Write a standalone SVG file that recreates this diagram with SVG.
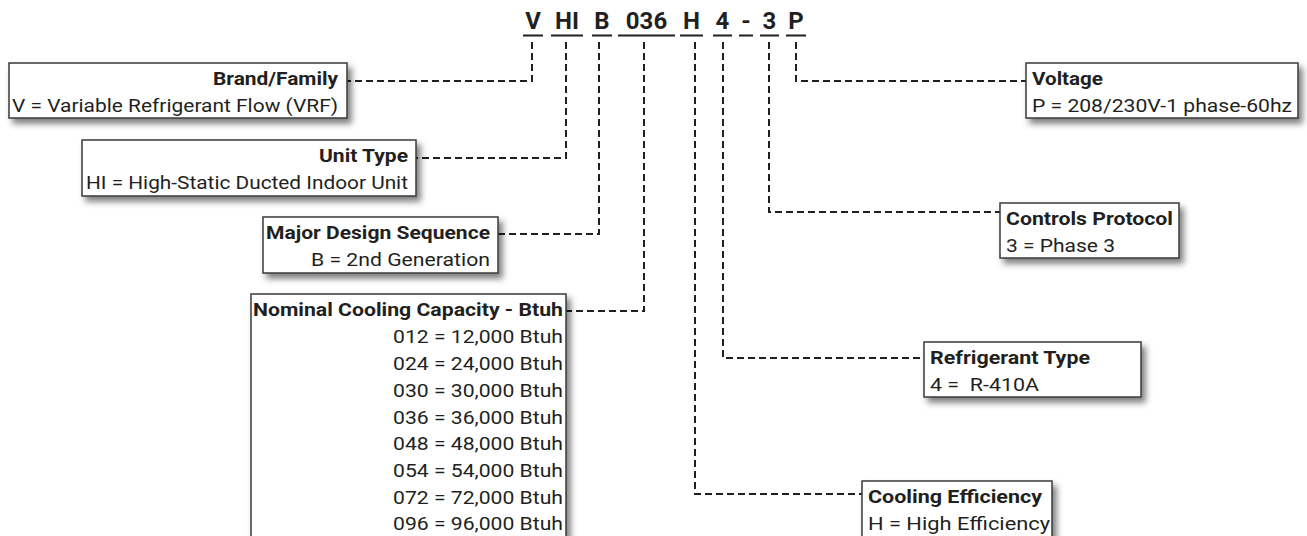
<svg xmlns="http://www.w3.org/2000/svg" width="1307" height="536" viewBox="0 0 1307 536">
<style>
.code{font-family:Roboto,"Liberation Sans",sans-serif;font-weight:bold;font-size:24px;fill:#231f20;text-anchor:middle}
.ul{stroke:#231f20;stroke-width:2}
.box{fill:#fff;stroke:#3a3a3a;stroke-width:1.5;filter:url(#sh)}
.t{font-family:Roboto,"Liberation Sans",sans-serif;font-weight:bold;font-size:18.5px;fill:#231f20}
.b{font-family:Roboto,"Liberation Sans",sans-serif;font-size:18.5px;fill:#231f20}
.c{fill:none;stroke:#231f20;stroke-width:2;stroke-dasharray:7 4}
</style>
<defs>
<filter id="sh" x="-10%" y="-20%" width="130%" height="160%">
<feDropShadow dx="4" dy="5" stdDeviation="3" flood-color="#000" flood-opacity="0.5"/>
</filter>
</defs>
<rect width="1307" height="536" fill="#fff"/>
<g id="code">
<text class="code" x="533" y="29">V</text>
<text class="code" x="567" y="29">HI</text>
<text class="code" x="602" y="29">B</text>
<text class="code" x="646.5" y="29">036</text>
<text class="code" x="691.5" y="29">H</text>
<text class="code" x="722.5" y="29">4</text>
<text class="code" x="746" y="29">-</text>
<text class="code" x="769.5" y="29">3</text>
<text class="code" x="796" y="29">P</text>
<line class="ul" x1="523" y1="35.5" x2="543" y2="35.5"/>
<line class="ul" x1="551" y1="35.5" x2="583" y2="35.5"/>
<line class="ul" x1="592" y1="35.5" x2="612" y2="35.5"/>
<line class="ul" x1="618" y1="35.5" x2="675" y2="35.5"/>
<line class="ul" x1="680" y1="35.5" x2="703" y2="35.5"/>
<line class="ul" x1="713" y1="35.5" x2="732" y2="35.5"/>
<line class="ul" x1="739" y1="35.5" x2="753" y2="35.5"/>
<line class="ul" x1="760" y1="35.5" x2="779" y2="35.5"/>
<line class="ul" x1="786" y1="35.5" x2="806" y2="35.5"/>
</g>
<g id="connectors">
<polyline class="c" points="532,42 532,81 347,81"/>
<polyline class="c" points="566,42 566,158 416,158"/>
<polyline class="c" points="599,42 599,234 498,234"/>
<polyline class="c" points="644,42 644,311 566,311"/>
<polyline class="c" points="695,42 695,494 862,494"/>
<polyline class="c" points="723,42 723,358 924,358"/>
<polyline class="c" points="769,42 769,212 1000,212"/>
<polyline class="c" points="796,42 796,81 1026,81"/>
</g>
<g id="brand">
<rect class="box" x="9" y="63" width="338" height="55"/>
<text class="t" x="213" y="85" textLength="125" lengthAdjust="spacingAndGlyphs">Brand/Family</text>
<text class="b" x="12" y="112" textLength="326" lengthAdjust="spacingAndGlyphs">V = Variable Refrigerant Flow (VRF)</text>
</g>
<g id="unit-type">
<rect class="box" x="82" y="140" width="334" height="56"/>
<text class="t" x="319" y="162" textLength="89" lengthAdjust="spacingAndGlyphs">Unit Type</text>
<text class="b" x="86" y="189" textLength="322" lengthAdjust="spacingAndGlyphs">HI = High-Static Ducted Indoor Unit</text>
</g>
<g id="major-design">
<rect class="box" x="263" y="217" width="235" height="56"/>
<text class="t" x="266" y="239" textLength="224" lengthAdjust="spacingAndGlyphs">Major Design Sequence</text>
<text class="b" x="311" y="266" textLength="179" lengthAdjust="spacingAndGlyphs">B = 2nd Generation</text>
</g>
<g id="capacity">
<rect class="box" x="251" y="294" width="315" height="270"/>
<text class="t" x="253" y="316" textLength="310" lengthAdjust="spacingAndGlyphs">Nominal Cooling Capacity - Btuh</text>
<text class="b" x="393" y="343" textLength="170" lengthAdjust="spacingAndGlyphs">012 = 12,000 Btuh</text>
<text class="b" x="393" y="370" textLength="170" lengthAdjust="spacingAndGlyphs">024 = 24,000 Btuh</text>
<text class="b" x="393" y="397" textLength="170" lengthAdjust="spacingAndGlyphs">030 = 30,000 Btuh</text>
<text class="b" x="393" y="424" textLength="170" lengthAdjust="spacingAndGlyphs">036 = 36,000 Btuh</text>
<text class="b" x="393" y="450" textLength="170" lengthAdjust="spacingAndGlyphs">048 = 48,000 Btuh</text>
<text class="b" x="393" y="477" textLength="170" lengthAdjust="spacingAndGlyphs">054 = 54,000 Btuh</text>
<text class="b" x="393" y="504" textLength="170" lengthAdjust="spacingAndGlyphs">072 = 72,000 Btuh</text>
<text class="b" x="393" y="530" textLength="170" lengthAdjust="spacingAndGlyphs">096 = 96,000 Btuh</text>
</g>
<g id="voltage">
<rect class="box" x="1026" y="63" width="272" height="55"/>
<text class="t" x="1032" y="85" textLength="71" lengthAdjust="spacingAndGlyphs">Voltage</text>
<text class="b" x="1032" y="112" textLength="260" lengthAdjust="spacingAndGlyphs">P = 208/230V-1 phase-60hz</text>
</g>
<g id="controls">
<rect class="box" x="1000" y="203" width="179" height="55"/>
<text class="t" x="1006" y="225" textLength="167" lengthAdjust="spacingAndGlyphs">Controls Protocol</text>
<text class="b" x="1006" y="252" textLength="109" lengthAdjust="spacingAndGlyphs">3 = Phase 3</text>
</g>
<g id="refrigerant">
<rect class="box" x="924" y="342" width="217" height="55"/>
<text class="t" x="930" y="364" textLength="160" lengthAdjust="spacingAndGlyphs">Refrigerant Type</text>
<text class="b" x="930" y="391" textLength="109" lengthAdjust="spacingAndGlyphs" xml:space="preserve">4 =  R-410A</text>
</g>
<g id="efficiency">
<rect class="box" x="862" y="481" width="190" height="70"/>
<text class="t" x="868" y="503" textLength="174" lengthAdjust="spacingAndGlyphs">Cooling Efficiency</text>
<text class="b" x="868" y="530" textLength="182" lengthAdjust="spacingAndGlyphs">H = High Efficiency</text>
</g>
</svg>
